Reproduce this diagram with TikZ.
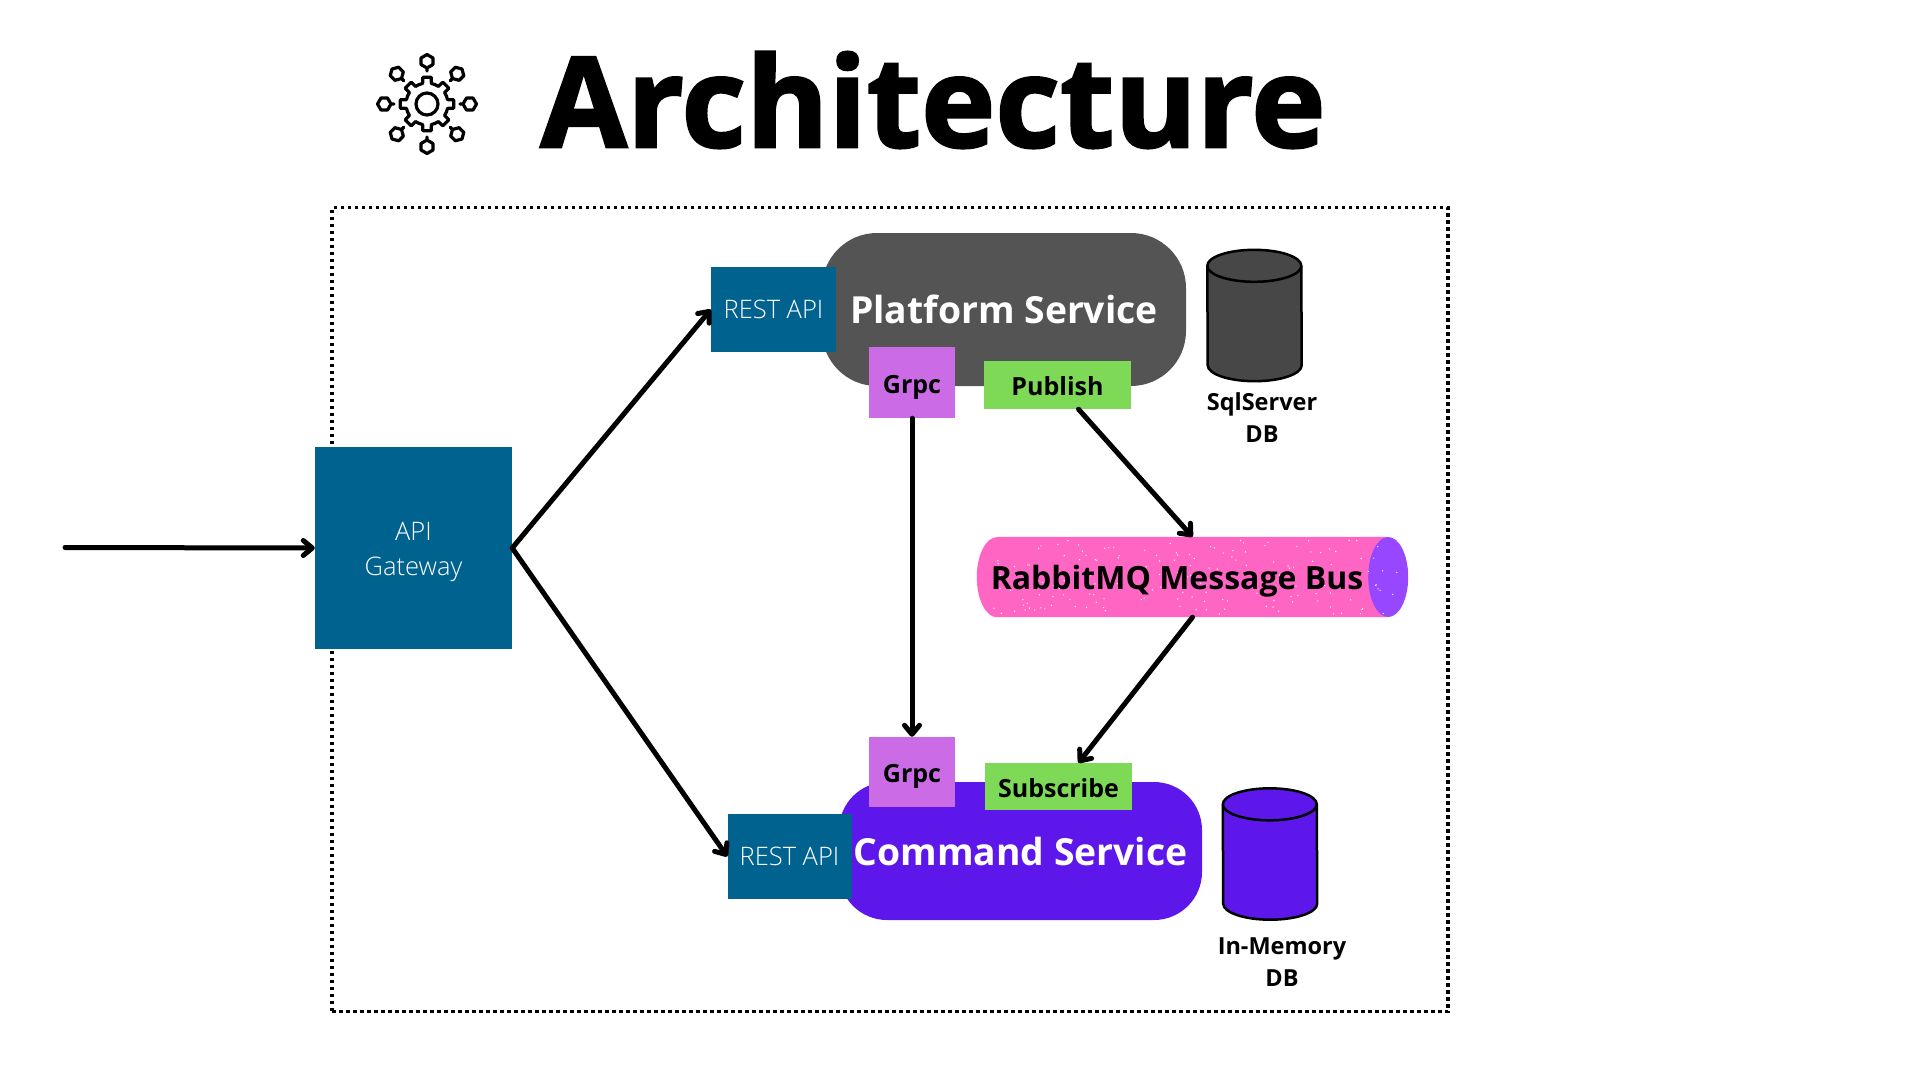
\documentclass[tikz,border=0pt]{standalone}
\usepackage{fontspec}
\setmainfont{Open Sans}
\newfontfamily\lightfont{Open Sans Light}
\newfontfamily\heavyfont[BoldFeatures={FakeBold=2}]{Open Sans}
\usepackage{tikz}
\usetikzlibrary{arrows.meta,positioning,calc,shapes.geometric}
\usepackage{xcolor}
\definecolor{restblue}{HTML}{00628F}
\definecolor{platgray}{HTML}{545454}
\definecolor{cmdviolet}{HTML}{5E17EB}
\definecolor{grpcpurple}{HTML}{CB6CE6}
\definecolor{pubgreen}{HTML}{7ED957}
\definecolor{buspink}{HTML}{FF66C4}
\definecolor{busend}{HTML}{9747FF}
\definecolor{dbgray}{HTML}{474747}
\newcommand{\dbcan}[2]{%
  \draw[line width=2.5pt,fill=#2] ([yshift=-16pt]#1.north west) arc[start angle=180,end angle=0,x radius=47pt,y radius=16pt]
    -- ([yshift=16pt]#1.south east) arc[start angle=0,end angle=-180,x radius=47pt,y radius=16pt] -- cycle;
  \draw[line width=2.5pt] ([yshift=-16pt]#1.north west) arc[start angle=180,end angle=360,x radius=47pt,y radius=16pt];
}

\begin{document}
\begin{tikzpicture}[x=1pt,y=-1pt,>={Straight Barb[length=9pt,width=15pt,round]},
  flow/.style={->,line width=5pt,line cap=round},
  rest/.style={rectangle,fill=restblue,text=white,inner sep=0pt,font=\lightfont\fontsize{25.5}{35}\selectfont,align=center},
  svc/.style={rectangle,text=white,inner sep=0pt,font=\bfseries\fontsize{37.3}{46}\selectfont},
  tag/.style={rectangle,inner sep=0pt,text height=21pt,text depth=0pt,font=\bfseries\fontsize{25}{30}\selectfont},
  db/.style={rectangle,inner sep=0pt,minimum width=94pt,minimum height=131pt},
  dblab/.style={font=\bfseries\fontsize{23.5}{32}\selectfont,align=center},
  icon/.style={line width=3.2pt,line join=round,line cap=round}]
\useasboundingbox (0,0) rectangle (1920,1080);
\node[font=\heavyfont\bfseries\fontsize{125.5}{130}\selectfont] (title) at (933,100) {Architecture};
\coordinate (gear) at (427,104);
\begin{scope}[shift={(gear)}]
\draw[icon] (0,0) circle (11);
\draw[icon] (-22.5:21) foreach \a in {0,45,...,315} {
  -- (\a-12:21) -- (\a-9:27) -- (\a+9:27) -- (\a+12:21) -- (\a+22.5:21)} -- cycle;
\foreach \a in {0,45,...,315} {
  \draw[icon,rotate=\a] (33,0)--(36,0) (36,0)--(39.5,6)--(46,6)--(49.5,0)--(46,-6)--(39.5,-6)--cycle;
}
\end{scope}
\node[draw,line width=3.5pt,dash pattern=on 3.5pt off 3.5pt,minimum width=1116pt,minimum height=804pt,inner sep=0pt] (frame) at (890,609.5) {};
\node[svc,fill=platgray,rounded corners=55pt,minimum width=364pt,minimum height=153pt] (plat) at (1004,309.5) {Platform Service};
\node[svc,fill=cmdviolet,rounded corners=48pt,minimum width=363pt,minimum height=138pt] (cmd) at (1020.5,851) {Command Service};
\node[rest,minimum width=197pt,minimum height=202pt] (gw) at (413.5,548) {};
\node[rest,fill=none] (gwlab) at ([yshift=-4pt]gw.center) {API\\Gateway};
\node[rest,minimum width=125pt,minimum height=85pt] (rest1) at (773.5,309.5) {REST API};
\node[rest,minimum width=124pt,minimum height=85pt] (rest2) at (789.5,856.5) {REST API};
\node[tag,fill=grpcpurple,minimum width=86pt,minimum height=71pt] (grpc1) at (912,382.5) {Grpc};
\node[tag,fill=grpcpurple,minimum width=86pt,minimum height=70pt] (grpc2) at (912,772) {Grpc};
\node[tag,fill=pubgreen,minimum width=147pt,minimum height=48pt] (pub) at (1057.5,385) {Publish};
\node[tag,fill=pubgreen,minimum width=147pt,minimum height=47pt] (sub) at (1058.5,786.5) {Subscribe};
\node[db] (sql) at (1254.5,315.5) {};
\node[db] (mem) at (1270,854) {};
\dbcan{sql}{dbgray}
\dbcan{mem}{cmdviolet}
\node[dblab] (sqllab) at (1262,418) {SqlServer\\DB};
\node[dblab] (memlab) at (1282,962) {In-Memory\\DB};
\node[rectangle,inner sep=0pt,minimum width=431pt,minimum height=80pt] (bus) at (1192.5,577) {};
\fill[buspink] ([xshift=20pt]bus.north west) -- ([xshift=-20pt]bus.north east) -- ([xshift=-20pt]bus.south east) -- ([xshift=20pt]bus.south west) arc[start angle=270,end angle=90,x radius=20pt,y radius=40pt] -- cycle;
\fill[busend] ([xshift=-20pt]bus.east) ellipse[x radius=20pt,y radius=40pt];
\pgfmathsetseed{7}
\foreach \i in {1,...,170} {
  \fill[white] ($(bus.center)+(rand*205,rand*37)$) circle (0.7);
}
\node[font=\bfseries\fontsize{32}{40}\selectfont] (buslab) at (1177,581) {RabbitMQ Message Bus};
\coordinate (entry) at (65,547.5);
\draw[flow] (entry) -- (gw.west);
\draw[flow] (gw.east) -- (rest1.west);
\draw[flow] (gw.east) -- (rest2.west);
\draw[flow] (grpc1.south) -- (grpc2.north);
\draw[flow] ([xshift=21pt]pub.south) -- (bus.north);
\draw[flow] (bus.south) -- ([xshift=20pt]sub.north);
\end{tikzpicture}
\end{document}
